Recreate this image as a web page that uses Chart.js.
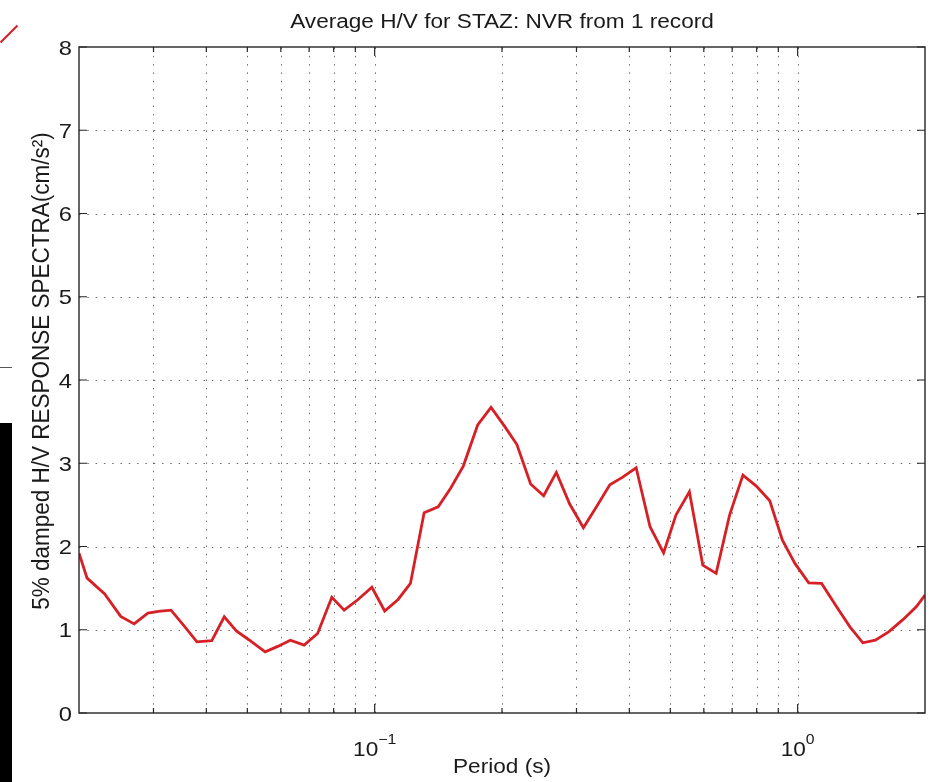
<!DOCTYPE html>
<html>
<head>
<meta charset="utf-8">
<title>Average H/V for STAZ: NVR</title>
<script src="https://cdn.jsdelivr.net/npm/chart.js@4.4.1/dist/chart.umd.min.js"></script>
<style>
  html, body { margin: 0; padding: 0; background: #fff; }
  #wrap { position: relative; width: 930px; height: 782px; }
  #edge-bar { position: absolute; left: 0; top: 423px; width: 12px; height: 359px; background: #000; }
  #edge-line { position: absolute; left: 0; top: 367px; width: 12px; height: 1px; background: #555; }
  #edge-red { position: absolute; left: -3px; top: 33px; width: 24px; height: 2px; background: #d71f26;
              transform: rotate(-45deg); transform-origin: center; }
</style>
</head>
<body>
<div id="wrap">
  <canvas id="hv-chart" width="930" height="782"></canvas>
  <div id="edge-bar"></div>
  <div id="edge-line"></div>
  <div id="edge-red"></div>
</div>
<script>
// 週期 (s)
const periods = [
  0.0200, 0.0209, 0.0230, 0.0251, 0.0270, 0.0291, 0.0308, 0.0330, 0.0354, 0.0380,
  0.0412, 0.0441, 0.0471, 0.0504, 0.0551, 0.0590, 0.0632, 0.0681, 0.0733, 0.0792,
  0.0847, 0.0912, 0.0985, 0.1056, 0.1136, 0.1215, 0.1309, 0.1413, 0.1512, 0.1620,
  0.1752, 0.1884, 0.2031, 0.2169, 0.2337, 0.2509, 0.2688, 0.2891, 0.3115, 0.3345,
  0.3597, 0.3851, 0.4151, 0.4477, 0.4820, 0.5155, 0.5547, 0.5967, 0.6415, 0.6903,
  0.7424, 0.7984, 0.8591, 0.9204, 0.9851, 1.062, 1.139, 1.235, 1.329, 1.426,
  1.526, 1.641, 1.776, 1.907, 2.000
];
// H/V 比值
const hvRatio = [
  1.92, 1.62, 1.43, 1.16, 1.07, 1.20, 1.22, 1.235, 1.05, 0.855,
  0.87, 1.155, 0.985, 0.88, 0.735, 0.80, 0.875, 0.815, 0.955, 1.39,
  1.235, 1.36, 1.51, 1.225, 1.364, 1.556, 2.405, 2.477, 2.70, 2.966,
  3.46, 3.67, 3.44, 3.225, 2.75, 2.61, 2.89, 2.51, 2.225, 2.477,
  2.74, 2.83, 2.946, 2.237, 1.924, 2.377, 2.657, 1.776, 1.677, 2.377,
  2.858, 2.726, 2.549, 2.077, 1.797, 1.564, 1.556, 1.28, 1.035, 0.843,
  0.875, 0.975, 1.124, 1.275, 1.416
];
// 刻度
const yTicks = [0, 1, 2, 3, 4, 5, 6, 7, 8];
const xMajorTicks = [0.1, 1];
const xMajorLabels = [['10', '\u2212' + '1'], ['10', '0']];
const xMinorTicks = [0.03, 0.04, 0.05, 0.06, 0.07, 0.08, 0.09, 0.2, 0.3, 0.4, 0.5, 0.6, 0.7, 0.8, 0.9];

const chartTitle = 'Average H/V for STAZ: NVR from 1 record';
const xTitle = 'Period (s)';
const yTitle = '5% damped H/V RESPONSE SPECTRA(cm/s\u00B2)';

const FONT = '"Liberation Sans", Arial, Helvetica, sans-serif';
const STRETCH = 1.13; // 原圖文字橫向略寬
const AXIS_COLOR = '#262626';

function drawText(ctx, text, x, y, size, align, rotate) {
  ctx.save();
  ctx.translate(x, y);
  ctx.scale(rotate ? 1.05 : STRETCH, 1);
  if (rotate) ctx.rotate(-Math.PI / 2);
  ctx.font = `${size}px ${FONT}`;
  ctx.fillStyle = '#1a1a1a';
  ctx.textAlign = align;
  ctx.textBaseline = 'alphabetic';
  ctx.fillText(text, 0, 0);
  ctx.restore();
}

// 虛線格線 (畫在資料線下面)
const gridPlugin = {
  id: 'matlabGrid',
  beforeDatasetsDraw(chart) {
    const { ctx, chartArea: a, scales } = chart;
    ctx.save();
    ctx.strokeStyle = 'rgba(60,60,60,0.75)';
    ctx.lineWidth = 1;
    ctx.setLineDash([1.5, 6.8]);
    yTicks.forEach(v => {
      if (v === 0 || v === 8) return;
      const y = Math.round(scales.y.getPixelForValue(v)) + 0.5;
      ctx.beginPath();
      ctx.moveTo(a.left, y);
      ctx.lineTo(a.right, y);
      ctx.stroke();
    });
    xMinorTicks.concat(xMajorTicks).forEach(v => {
      const x = Math.round(scales.x.getPixelForValue(v)) + 0.5;
      ctx.beginPath();
      ctx.moveTo(x, a.bottom);
      ctx.lineTo(x, a.top);
      ctx.stroke();
    });
    ctx.restore();
  }
};

// 外框、內向刻度、文字
const framePlugin = {
  id: 'matlabFrame',
  afterDraw(chart) {
    const { ctx, chartArea: a, scales } = chart;
    ctx.save();
    ctx.strokeStyle = AXIS_COLOR;
    ctx.lineWidth = 1.4;
    ctx.strokeRect(a.left, a.top, a.right - a.left, a.bottom - a.top);
    ctx.lineWidth = 1.2;
    ctx.beginPath();
    yTicks.forEach(v => {
      const y = scales.y.getPixelForValue(v);
      ctx.moveTo(a.left, y); ctx.lineTo(a.left + 8, y);
      ctx.moveTo(a.right, y); ctx.lineTo(a.right - 8, y);
    });
    xMajorTicks.forEach(v => {
      const x = scales.x.getPixelForValue(v);
      ctx.moveTo(x, a.bottom); ctx.lineTo(x, a.bottom - 9);
      ctx.moveTo(x, a.top); ctx.lineTo(x, a.top + 9);
    });
    xMinorTicks.forEach(v => {
      const x = scales.x.getPixelForValue(v);
      ctx.moveTo(x, a.bottom); ctx.lineTo(x, a.bottom - 5);
      ctx.moveTo(x, a.top); ctx.lineTo(x, a.top + 5);
    });
    ctx.stroke();
    ctx.restore();

    // y 刻度文字
    yTicks.forEach(v => {
      const y = scales.y.getPixelForValue(v);
      drawText(ctx, String(v), a.left - 7, y + 7.5, 21, 'right', false);
    });
    // x 刻度文字 10^n
    xMajorTicks.forEach((v, i) => {
      const x = scales.x.getPixelForValue(v);
      const [base, exp] = xMajorLabels[i];
      ctx.save();
      ctx.font = `20px ${FONT}`;
      const wBase = ctx.measureText(base).width;
      ctx.font = `14px ${FONT}`;
      const wExp = ctx.measureText(exp).width;
      ctx.restore();
      const left = x - (wBase + wExp) * STRETCH / 2;
      drawText(ctx, base, left, 756, 20, 'left', false);
      drawText(ctx, exp, left + wBase * STRETCH, 744, 14, 'left', false);
    });
    // 標題
    const cx = (a.left + a.right) / 2;
    drawText(ctx, chartTitle, cx, 28, 20, 'center', false);
    drawText(ctx, xTitle, cx, 773, 20, 'center', false);
    drawText(ctx, yTitle, 49, (a.top + a.bottom) / 2 - 9, 22.5, 'center', true);
  }
};

const ctx = document.getElementById('hv-chart').getContext('2d');
new Chart(ctx, {
  type: 'line',
  data: {
    datasets: [{
      label: 'H/V',
      data: periods.map((p, i) => ({ x: p, y: hvRatio[i] })),
      borderColor: '#d71f26',
      borderWidth: 2.8,
      pointRadius: 0,
      pointHoverRadius: 0,
      tension: 0,
      fill: false
    }]
  },
  options: {
    responsive: false,
    animation: false,
    layout: { padding: { left: 79, top: 47, right: 5, bottom: 69 } },
    plugins: {
      legend: { display: false },
      tooltip: { enabled: false },
      title: { display: false }
    },
    scales: {
      x: { type: 'logarithmic', min: 0.02, max: 2, display: false },
      y: { type: 'linear', min: 0, max: 8, display: false }
    }
  },
  plugins: [gridPlugin, framePlugin]
});
</script>
</body>
</html>
